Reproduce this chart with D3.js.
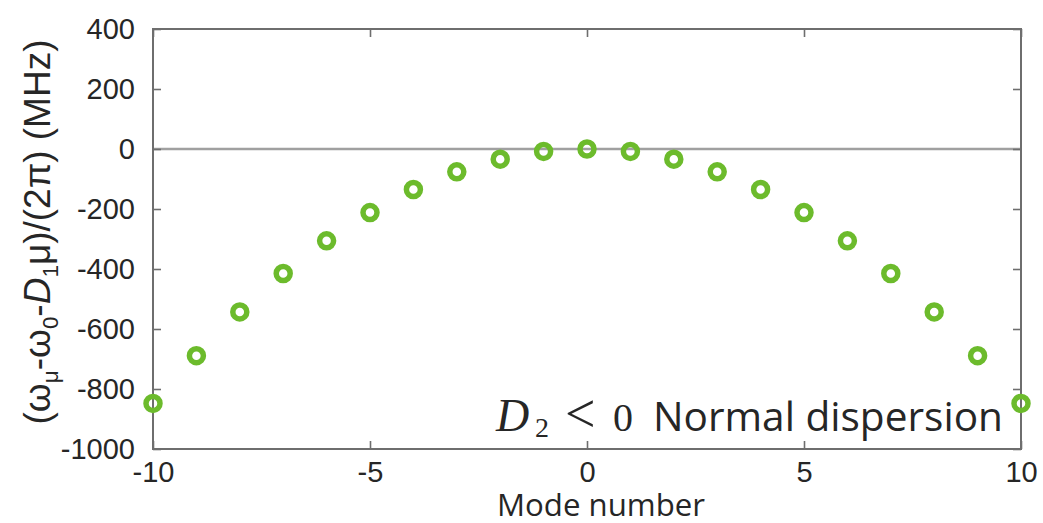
<!DOCTYPE html>
<html>
<head>
<meta charset="utf-8">
<script src="https://cdn.jsdelivr.net/npm/d3@7"></script>
<style>
  html, body { margin: 0; padding: 0; background: #fff; }
  svg { display: block; }
</style>
</head>
<body>
<svg id="chart" width="1043" height="523"></svg>
<script>
// Mode numbers and the measured offset from the equidistant grid (MHz)
const modes = [-10, -9, -8, -7, -6, -5, -4, -3, -2, -1, 0, 1, 2, 3, 4, 5, 6, 7, 8, 9, 10];
const offsets = [-848, -689, -543, -415, -306, -212, -135, -76, -34, -8, 0,
                 -8, -34, -76, -135, -212, -306, -415, -543, -689, -848];
const xTicks = [-10, -5, 0, 5, 10];
const yTicks = [400, 200, 0, -200, -400, -600, -800, -1000];

const svg = d3.select("#chart");
const plotLeft = 153, plotRight = 1021, plotTop = 29, plotBottom = 449;

const x = d3.scaleLinear().domain([-10, 10]).range([plotLeft, plotRight]);
const y = d3.scaleLinear().domain([-1000, 400]).range([plotBottom, plotTop]);

const axisColor = "#6e6e6e";
const labelColor = "#262626";
const tickFont = "'Liberation Sans', Arial, sans-serif";
const tickLen = 8;
const plain = d => String(d);

// zero reference line
svg.append("line")
  .attr("x1", plotLeft).attr("x2", plotRight)
  .attr("y1", y(0)).attr("y2", y(0))
  .attr("stroke", "#a0a0a0").attr("stroke-width", 2.5);

// axes with inward ticks on all four sides
const styleAxis = g => {
  g.select(".domain").remove();
  g.selectAll(".tick line").attr("stroke", axisColor).attr("stroke-width", 1.6);
  g.selectAll(".tick text").attr("fill", labelColor)
    .style("font-family", tickFont).style("font-size", "29px");
};

svg.append("g").attr("transform", `translate(0,${plotBottom})`)
  .call(d3.axisBottom(x).tickValues(xTicks).tickFormat(plain)
    .tickSizeInner(-tickLen).tickSizeOuter(0).tickPadding(12))
  .call(styleAxis);
svg.append("g").attr("transform", `translate(0,${plotTop})`)
  .call(d3.axisTop(x).tickValues(xTicks).tickSizeInner(-tickLen).tickSizeOuter(0).tickFormat(""))
  .call(styleAxis);
svg.append("g").attr("transform", `translate(${plotLeft},0)`)
  .call(d3.axisLeft(y).tickValues(yTicks).tickFormat(plain)
    .tickSizeInner(-tickLen).tickSizeOuter(0).tickPadding(18))
  .call(styleAxis);
svg.append("g").attr("transform", `translate(${plotRight},0)`)
  .call(d3.axisRight(y).tickValues(yTicks).tickSizeInner(-tickLen).tickSizeOuter(0).tickFormat(""))
  .call(styleAxis);

// frame
svg.append("rect")
  .attr("x", plotLeft).attr("y", plotTop)
  .attr("width", plotRight - plotLeft).attr("height", plotBottom - plotTop)
  .attr("fill", "none").attr("stroke", axisColor).attr("stroke-width", 2);

// data markers
svg.append("g").selectAll("circle")
  .data(modes.map((m, i) => ({ m, v: offsets[i] })))
  .join("circle")
  .attr("cx", d => x(d.m))
  .attr("cy", d => y(d.v))
  .attr("r", 7)
  .attr("fill", "none")
  .attr("stroke", "#6cbb2c")
  .attr("stroke-width", 5.5);

// helper: scale the font so the text spans a given width
function fitWidth(sel, width) {
  const fs = parseFloat(sel.style("font-size"));
  const w = sel.node().getComputedTextLength();
  sel.style("font-size", (fs * width / w) + "px");
}

// x-axis title
const xt = svg.append("text")
  .attr("x", 601).attr("y", 516)
  .attr("text-anchor", "middle")
  .attr("fill", labelColor)
  .style("font-family", "'Open Sans', 'Noto Sans', sans-serif")
  .style("font-size", "30px")
  .text("Mode number");
fitWidth(xt, 208);

// y-axis title
const subSize = 17, mainSize = 28;
const yt = svg.append("text")
  .attr("transform", "translate(50,232) rotate(-90)")
  .attr("text-anchor", "middle")
  .attr("fill", labelColor)
  .style("font-family", tickFont)
  .style("font-size", mainSize + "px");
const parts = [
  { t: "(ω" }, { t: "μ", sub: true }, { t: "-ω" }, { t: "0", sub: true },
  { t: "-" }, { t: "D", it: true }, { t: "1", sub: true }, { t: "μ)/(2π) (MHz)" }
];
let prevSub = false;
parts.forEach(p => {
  const ts = yt.append("tspan").text(p.t);
  if (p.sub) { ts.attr("dy", 8).classed("sub", true).style("font-size", subSize + "px"); }
  else if (prevSub) { ts.attr("dy", -8); }
  if (p.it) ts.style("font-style", "italic");
  prevSub = !!p.sub;
});
{
  const w = yt.node().getComputedTextLength();
  const k = 385 / w;
  yt.style("font-size", (mainSize * k) + "px");
  yt.selectAll("tspan.sub").style("font-size", (subSize * k) + "px");
}

// annotation: D2 < 0 Normal dispersion
const mathFont = "'Liberation Serif', serif";
const base = 431;
const put = (txt, px, py, size, italic) => svg.append("text")
  .attr("x", px).attr("y", py)
  .attr("fill", labelColor)
  .style("font-family", mathFont)
  .style("font-style", italic ? "italic" : "normal")
  .style("font-size", size + "px")
  .text(txt);
put("D", 496, base, 46, true);
put("2", 535, base + 6, 28, false);
put("<", 565, base + 1, 54, false);
put("0", 613, base, 40, false);
const nd = svg.append("text").attr("x", 653).attr("y", base)
  .attr("fill", labelColor)
  .style("font-family", "'Open Sans', 'Noto Sans', sans-serif")
  .style("font-size", "34px")
  .text("Normal dispersion");
fitWidth(nd, 350);
</script>
</body>
</html>
